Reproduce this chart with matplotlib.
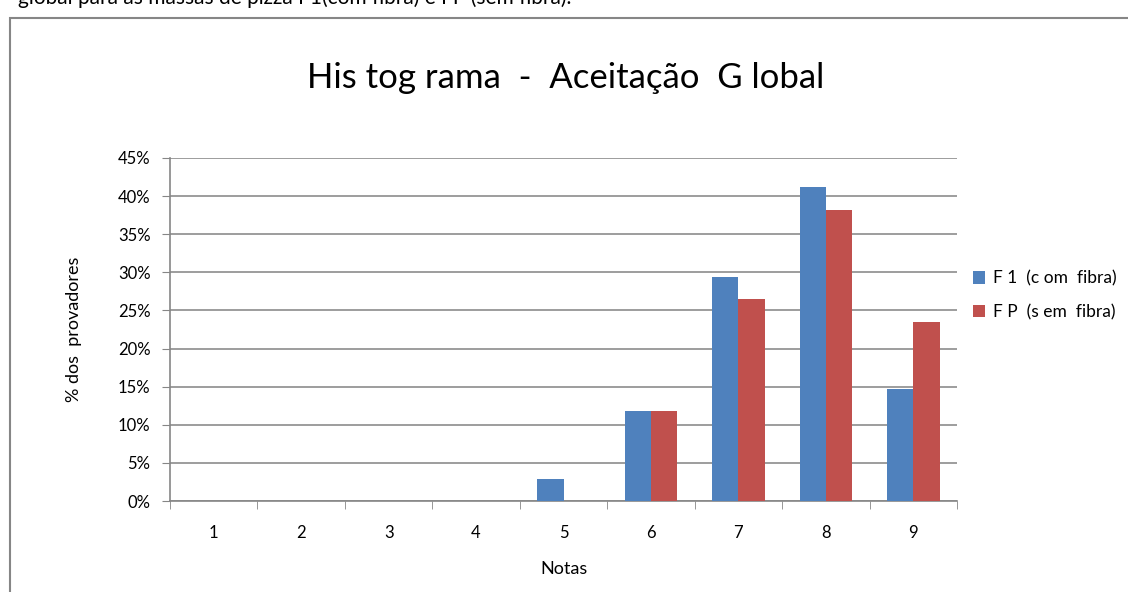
import numpy as np
import matplotlib.pyplot as plt
from matplotlib.patches import Rectangle

# Distribuição das notas de aceitação global (% dos provadores)
notas = ['1', '2', '3', '4', '5', '6', '7', '8', '9']
f1_com_fibra = [0, 0, 0, 0, 2.94, 11.76, 29.41, 41.18, 14.71]
fp_sem_fibra = [0, 0, 0, 0, 0, 11.76, 26.47, 38.24, 23.53]

plt.rcParams['font.family'] = ['Lato', 'DejaVu Sans']

fig = plt.figure(figsize=(11.28, 5.92), dpi=100)
ax = fig.add_axes([170 / 1128, 1 - 501 / 592, (957 - 170) / 1128, (501 - 158) / 592])

x = np.arange(len(notas))
largura = 0.30
azul = '#4f81bd'
vermelho = '#c0504d'

ax.bar(x - largura / 2, f1_com_fibra, largura, color=azul, label='F 1  (c om  fibra)', zorder=3)
ax.bar(x + largura / 2, fp_sem_fibra, largura, color=vermelho, label='F P  (s em  fibra)', zorder=3)

ax.set_xlim(-0.5, len(notas) - 0.5)
ax.set_ylim(0, 45)
ax.set_yticks(np.arange(0, 46, 5))
ax.set_yticklabels([f'{v}%' for v in range(0, 46, 5)], fontsize=12)
ax.set_xticks(x)
ax.set_xticklabels(notas, fontsize=12)
ax.set_xticks(np.arange(-0.5, len(notas), 1), minor=True)
ax.tick_params(axis='x', which='major', length=0, pad=17)
ax.tick_params(axis='x', which='minor', length=6, color='#868686', direction='out')
ax.tick_params(axis='y', length=6, color='#868686', direction='out', pad=8)

ax.grid(axis='y', color='#8c8c8c', linewidth=1.2, zorder=0)
for lado in ['top', 'right']:
    ax.spines[lado].set_visible(False)
for lado in ['left', 'bottom']:
    ax.spines[lado].set_color('#868686')
    ax.spines[lado].set_linewidth(1.2)

ax.set_xlabel('Notas', fontsize=13, labelpad=15)
ax.set_ylabel('% dos  provadores', fontsize=13, labelpad=26)

fig.text(0.501, 1 - 78 / 592, 'His tog rama  -  Aceitação  G lobal', ha='center', va='center', fontsize=25)

ax.legend(loc='center left', bbox_to_anchor=(1.0, 0.6), frameon=False, fontsize=12.5,
          handlelength=0.7, handleheight=0.7, handletextpad=0.5, labelspacing=1.0)

# moldura do gráfico e trecho de texto acima
fig.patches.append(Rectangle((10 / 1128, -0.05), 1.2, 1 - 18 / 592 + 0.05, transform=fig.transFigure,
                             fill=False, edgecolor='#868686', linewidth=1.5))
fig.text(18 / 1128, 1 + 2 / 592, 'global para as massas de pizza F1(com fibra) e FP (sem fibra).',
         ha='left', va='center', fontsize=15, color='black')

fig.savefig('out.png', dpi=100)
